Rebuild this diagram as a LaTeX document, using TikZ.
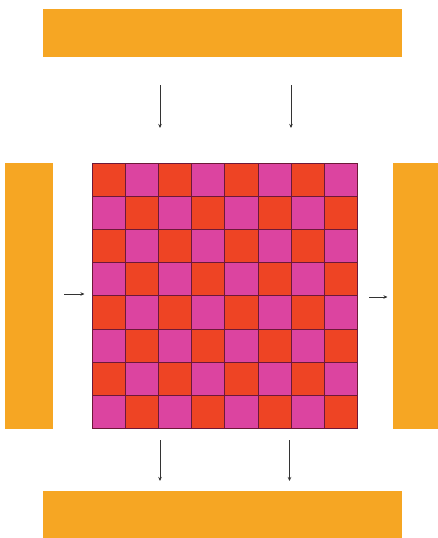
\documentclass[tikz,border=0pt]{standalone}
\usetikzlibrary{arrows.meta}
\definecolor{barorange}{HTML}{F6A623}
\definecolor{cellred}{HTML}{EE4424}
\definecolor{cellpink}{HTML}{DC44A0}
\definecolor{gridline}{HTML}{6E1838}
\definecolor{arrowgray}{HTML}{333333}
\begin{document}
\begin{tikzpicture}[x=1pt,y=-1pt,
  bar/.style={fill=barorange,draw=none,inner sep=0pt,outer sep=0pt},
  flow/.style={draw=arrowgray,line width=0.9pt,-{Stealth[length=4pt,width=3.5pt]}}]
\useasboundingbox (0,0) rectangle (438,538);
\fill[white] (0,0) rectangle (438,538);
% bars
\node[bar,minimum width=359pt,minimum height=48pt] (top) at (222.5,33) {};
\node[bar,minimum width=359pt,minimum height=47pt] (bottom) at (222.5,514.5) {};
\node[bar,minimum width=48pt,minimum height=266pt] (left) at (29,296) {};
\node[bar,minimum width=45pt,minimum height=266pt] (right) at (415.5,296) {};
% grid
\node[inner sep=0pt,outer sep=0pt,minimum width=265.6pt,minimum height=265.6pt] (grid) at (224.8,295.8) {};
\foreach \i in {0,...,7}{
  \foreach \j in {0,...,7}{
    \pgfmathtruncatemacro{\cellparity}{mod(\i+\j,2)}
    \ifnum\cellparity=0
      \fill[cellred] ({92+33.2*\i},{163+33.2*\j}) rectangle ++(33.2,33.2);
    \else
      \fill[cellpink] ({92+33.2*\i},{163+33.2*\j}) rectangle ++(33.2,33.2);
    \fi
  }
}
\foreach \k in {0,...,8}{
  \draw[gridline,line width=0.7pt] ({92+33.2*\k},163) -- ({92+33.2*\k},428.6);
  \draw[gridline,line width=0.7pt] (92,{163+33.2*\k}) -- (357.6,{163+33.2*\k});
}
% arrow coordinates
\coordinate (t1s) at (160,85); \coordinate (t1e) at (160,128);
\coordinate (t2s) at (291,85); \coordinate (t2e) at (291,128);
\coordinate (b1s) at (160,440); \coordinate (b1e) at (160,481);
\coordinate (b2s) at (289.5,440); \coordinate (b2e) at (289.5,481);
\coordinate (ls) at (64,294); \coordinate (le) at (84.5,294);
\coordinate (rs) at (369,297); \coordinate (re) at (387.5,297);
\draw[flow] (t1s) -- (t1e);
\draw[flow] (t2s) -- (t2e);
\draw[flow] (b1s) -- (b1e);
\draw[flow] (b2s) -- (b2e);
\draw[flow] (ls) -- (le);
\draw[flow] (rs) -- (re);
\end{tikzpicture}
\end{document}
